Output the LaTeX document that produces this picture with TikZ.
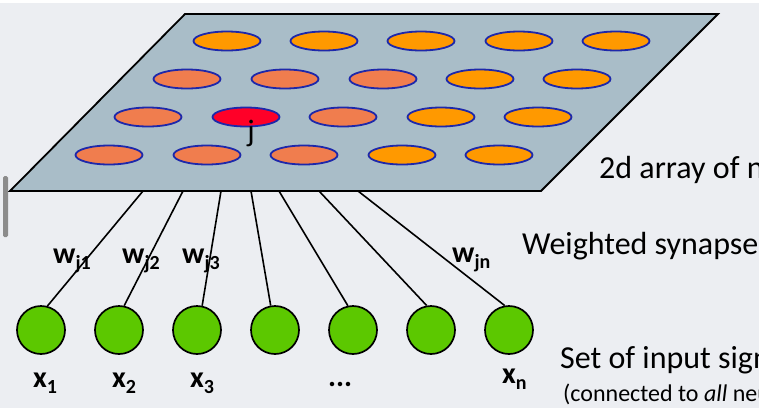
\documentclass[tikz,border=0pt]{standalone}
\usepackage{fontspec}
\setmainfont{Carlito}
\usetikzlibrary{shapes.geometric}
\definecolor{bg}{RGB}{236,238,242}
\definecolor{planecol}{RGB}{169,189,200}
\definecolor{orng}{RGB}{255,153,0}
\definecolor{salm}{RGB}{240,125,78}
\definecolor{redn}{RGB}{255,0,40}
\definecolor{edgeblue}{RGB}{30,40,170}
\definecolor{grn}{RGB}{92,200,0}
\definecolor{scrollcol}{RGB}{140,140,140}
\newcommand{\mysub}[1]{\raisebox{-6pt}{\fontsize{20}{20}\selectfont #1}}
\begin{document}
\begin{tikzpicture}[x=1pt,y=-1pt,
 neuron/.style={ellipse, draw=edgeblue, line width=1.8pt, minimum width=67pt, minimum height=19pt, inner sep=0pt},
 input/.style={circle, draw=black, line width=1.7pt, fill=grn, minimum size=48pt, inner sep=0pt},
 synapse/.style={draw=black, line width=1.6pt},
 wlab/.style={anchor=base west, font=\bfseries\fontsize{30}{30}\selectfont, inner sep=0pt},
 big/.style={anchor=base west, font=\fontsize{32}{32}\selectfont, inner sep=0pt},
 small/.style={anchor=base west, font=\fontsize{24}{24}\selectfont, inner sep=0pt}
]
\useasboundingbox (0,0) rectangle (759,408);
\clip (0,0) rectangle (759,408);
\fill[bg] (0,0) rectangle (759,408);
\fill[white] (0,0) rectangle (759,3);
\fill[scrollcol, rounded corners=1.5pt] (3,176) rectangle (8,237);

% plane
\coordinate (p1) at (185,14);
\coordinate (p2) at (718,14);
\coordinate (p3) at (541,191);
\coordinate (p4) at (10,191);
\draw[fill=planecol, line width=1.8pt, line join=miter] (p1) -- (p2) -- (p3) -- (p4) -- cycle;

% neurons
\foreach \x/\c [count=\i] in {227/orng,324/orng,421/orng,519/orng,616/orng}
  \node[neuron, fill=\c] (na\i) at (\x,41) {};
\foreach \x/\c [count=\i] in {187/salm,285/salm,383/salm,480/orng,577/orng}
  \node[neuron, fill=\c] (nb\i) at (\x,79) {};
\foreach \x/\c [count=\i] in {148/salm,246/redn,343/salm,441/orng,538/orng}
  \node[neuron, fill=\c] (nc\i) at (\x,117) {};
\foreach \x/\c [count=\i] in {109/salm,207/salm,304/salm,402/orng,499/orng}
  \node[neuron, fill=\c] (nd\i) at (\x,155) {};
\node[font=\fontsize{31}{31}\selectfont, inner sep=0pt] (jlab) at (251,133) {j};

% inputs
\foreach \x [count=\i] in {41,119,197,275,353,431,509}
  \node[input] (c\i) at (\x,330) {};

% synapses
\foreach \x [count=\i] in {143,183,221,251,279,319,358}
  \coordinate (s\i) at (\x,191);
\draw[synapse] (s1) -- (c1.75);
\draw[synapse] (s2) -- (c2.78);
\draw[synapse] (s3) -- (c3.78);
\draw[synapse] (s4) -- (c4.100);
\draw[synapse] (s5) -- (c5.102);
\draw[synapse] (s6) -- (c6.100);
\draw[synapse] (s7) -- (c7.100);

% weight labels
\node[wlab] (w1) at (53,263) {w\mysub{j1}};
\node[wlab] (w2) at (122,263) {w\mysub{j2}};
\node[wlab] (w3) at (182,263) {w\mysub{j3}};
\node[wlab] (wn) at (452,262) {w\mysub{jn}};

% input labels
\node[wlab] (x1) at (33,387) {x\mysub{1}};
\node[wlab] (x2) at (112,387) {x\mysub{2}};
\node[wlab] (x3) at (190,387) {x\mysub{3}};
\node[wlab] (dots) at (328,386) {...};
\node[wlab] (xn) at (502,383) {x\mysub{n}};

% descriptions
\node[big] (t1) at (599,178) {2d array of neurons};
\node[big] (t2) at (522,254) {Weighted synapses};
\node[big] (t3) at (560,368) {Set of input signals};
\node[small] (t4) at (563,401) {(connected to \textit{all} neurons in lattice)};
\end{tikzpicture}
\end{document}
